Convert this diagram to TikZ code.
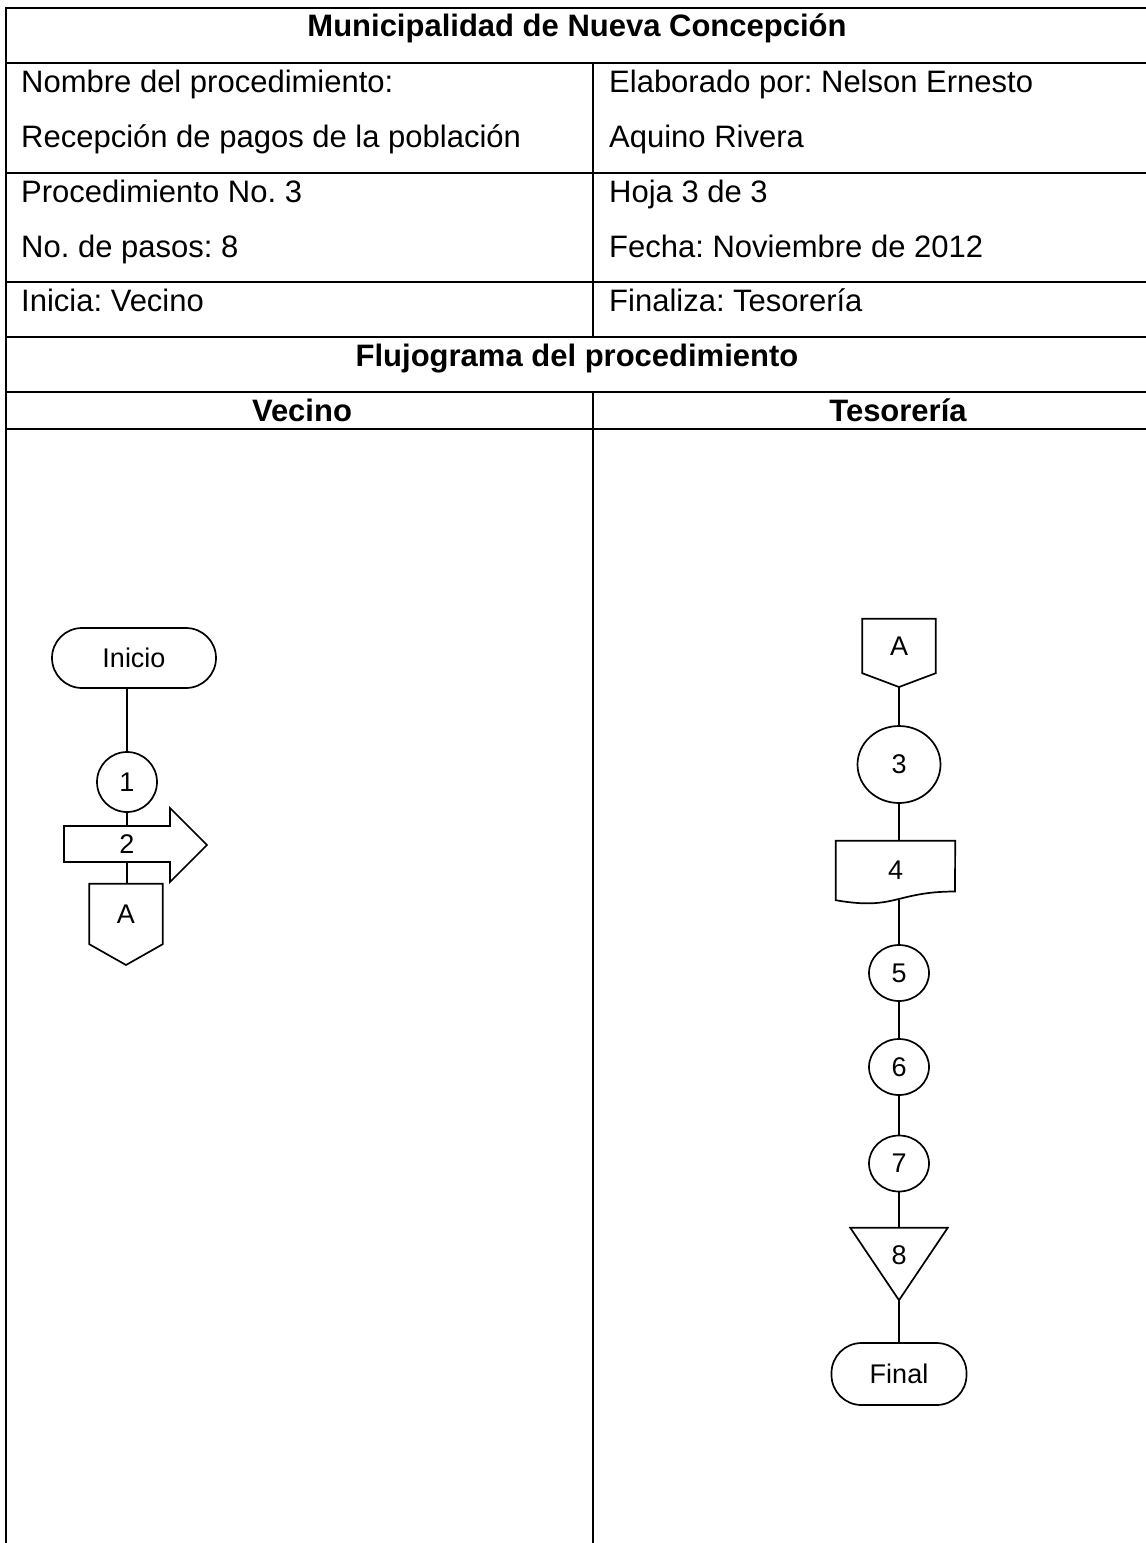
\documentclass[tikz,border=0pt]{standalone}
\usepackage{fontspec}
\setmainfont{Liberation Sans}
\frenchspacing
\usetikzlibrary{shapes.geometric}
\begin{document}
\begin{tikzpicture}[x=1pt,y=-1pt,
  tbl/.style={line width=2.7pt},
  celltext/.style={anchor=base west, inner sep=0pt, font=\fontsize{31}{37}\selectfont},
  headtext/.style={anchor=base, inner sep=0pt, font=\fontsize{31}{37}\selectfont\bfseries},
  flow/.style={line width=1.7pt},
  shapetext/.style={font=\fontsize{27}{32}\selectfont},
  stepcircle/.style={draw, ellipse, flow, inner sep=0pt, shapetext},
  terminal/.style={draw, flow, rounded corners=29pt, inner sep=0pt, shapetext},
  box/.style={inner sep=0pt, shapetext}
]
\useasboundingbox (0,0) rectangle (1146,1543);
% table
\draw[tbl] (6,8) -- (1150,8);
\draw[tbl] (6,63) -- (1150,63);
\draw[tbl] (6,173) -- (1150,173);
\draw[tbl] (6,282) -- (1150,282);
\draw[tbl] (6,337) -- (1150,337);
\draw[tbl] (6,392) -- (1150,392);
\draw[tbl] (6,429) -- (1150,429);
\draw[tbl] (6,6.65) -- (6,1543);
\draw[tbl] (593,63) -- (593,337);
\draw[tbl] (593,392) -- (593,1543);
% texts
\node[headtext] (title) at (577,36) {Municipalidad de Nueva Concepción};
\node[celltext] (n1) at (21,92) {Nombre del procedimiento:};
\node[celltext] (n2) at (21,147) {Recepción de pagos de la población};
\node[celltext] (n3) at (21,202) {Procedimiento No. 3};
\node[celltext] (n4) at (21,257) {No. de pasos: 8};
\node[celltext] (n5) at (21,311) {Inicia: Vecino};
\node[celltext] (m1) at (609,92) {Elaborado por: Nelson Ernesto};
\node[celltext] (m2) at (609,147) {Aquino Rivera};
\node[celltext] (m3) at (609,202) {Hoja 3 de 3};
\node[celltext] (m4) at (609,257) {Fecha: Noviembre de 2012};
\node[celltext] (m5) at (609,311) {Finaliza: Tesorería};
\node[headtext] (flujo) at (577,366) {Flujograma del procedimiento};
\node[headtext] (vec) at (302,421) {Vecino};
\node[headtext] (tes) at (898,421) {Tesorería};
% left flow
\node[terminal, minimum width=164pt, minimum height=60pt, rounded corners=30pt] (ini) at (134,658) {Inicio};
\node[stepcircle, minimum width=60pt, minimum height=60pt] (c1) at (127,782) {1};
\draw[flow] (64,826) -- (170,826) -- (170,808) -- (207,845) -- (170,882) -- (170,862) -- (64,862) -- cycle;
\node[box, minimum height=36pt] (s2) at (127,844) {2};
\node[box, minimum width=73pt, minimum height=60pt] (aL) at (126,914) {A};
\coordinate (aLtip) at (126,965);
\draw[flow] (aL.north west) -- (aL.north east) -- (aL.south east) -- (aLtip) -- (aL.south west) -- cycle;
\draw[flow] (c1.north |- ini.south) -- (c1.north);
\draw[flow] (c1.south) -- (c1.south |- s2.north);
\draw[flow] (s2.south) -- (s2.south |- aL.north);
% right flow
\node[box, minimum width=73pt, minimum height=54pt] (aR) at (899,646) {A};
\coordinate (aRtip) at (899,687);
\draw[flow] (aR.north west) -- (aR.north east) -- (aR.south east) -- (aRtip) -- (aR.south west) -- cycle;
\node[stepcircle, minimum width=83pt, minimum height=77pt] (c3) at (899,764.5) {3};
\node[box, minimum width=119pt, minimum height=59pt] (d4) at (895.5,870.5) {4};
\draw[flow] (d4.north west) -- (d4.north east) -- (955,891.5) .. controls (895.5,891.5) and (895.5,910.7) .. (d4.south west) -- cycle;
\node[stepcircle, minimum width=60pt, minimum height=56pt] (c5) at (899,973) {5};
\node[stepcircle, minimum width=60pt, minimum height=56pt] (c6) at (899,1067) {6};
\node[stepcircle, minimum width=60pt, minimum height=56pt] (c7) at (899,1163.5) {7};
\node[box, minimum width=97pt, minimum height=72pt] (t8) at (899,1264) {};
\draw[flow] (t8.north west) -- (t8.north east) -- (t8.south) -- cycle;
\node[box] (l8) at (899,1255) {8};
\node[terminal, minimum width=135pt, minimum height=62pt, rounded corners=30pt] (fin) at (899,1374) {Final};
\draw[flow] (aRtip) -- (c3.north);
\draw[flow] (c3.south) -- (c3.south |- d4.north);
\draw[flow] (c5.north |- d4.south) -- (c5.north);
\draw[flow] (c5.south) -- (c6.north);
\draw[flow] (c6.south) -- (c7.north);
\draw[flow] (c7.south) -- (c7.south |- t8.north);
\draw[flow] (t8.south) -- (fin.north);
\end{tikzpicture}
\end{document}
